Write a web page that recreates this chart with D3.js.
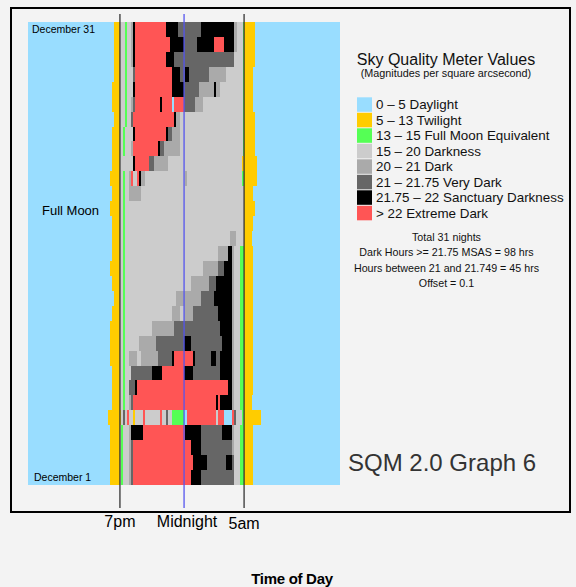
<!DOCTYPE html>
<html><head><meta charset="utf-8">
<script src="https://cdn.jsdelivr.net/npm/d3@7"></script>
<style>
body{margin:0;background:#f3f3f3;}
svg{display:block;font-family:"Liberation Sans",Arial,Helvetica,sans-serif;}
</style>
</head><body><svg id="chart" width="576" height="587"></svg>
<script>
// ---------- DATA ----------
const categoryCodes = ["D","T","F","L","M","V","S","E"];
const categoryLabels = ["0 – 5 Daylight","5 – 13 Twilight","13 – 15 Full Moon Equivalent","15 – 20 Darkness","20 – 21 Dark","21 – 21.75 Very Dark","21.75 – 22 Sanctuary Darkness","> 22 Extreme Dark"];
const nights = ["December 31","December 30","December 29","December 28","December 27","December 26","December 25","December 24","December 23","December 22","December 21","December 20","December 19","December 18","December 17","December 16","December 15","December 14","December 13","December 12","December 11","December 10","December 9","December 8","December 7","December 6","December 5","December 4","December 3","December 2","December 1"];
// each night: category code + start time (minutes after noon); segment lasts until the next start (last one until noon next day)
const nightRuns = [
"D0 T397 L424 F449 L455 M475 S484 E494 S637 V692 S798 M950 L963 F990 T996 D1047",
"D0 T397 L424 F449 L455 M475 S484 E494 S655 V720 S778 E858 S904 M950 L963 F990 T996 D1047",
"D0 T397 L424 F449 L455 M475 S484 E494 S637 V673 L950 F990 T996 D1047",
"D0 T397 L424 F449 L455 V484 E494 S664 V701 S724 V743 M835 L913 F990 T996 D1039",
"D0 T387 L424 F449 L455 S484 E494 S664 V720 M789 S858 M867 L886 F990 T996 D1039",
"D0 T387 L424 F449 L455 M475 V484 E494 S609 E618 D664 E673 V720 M770 L807 F990 T996 D1039",
"D0 T397 L424 F449 L455 V475 E484 S673 M683 L701 F990 T996 D1047",
"D0 T387 L424 F440 L447 S484 E494 S637 V646 M664 L701 F990 T996 D1047",
"D0 T387 L424 F440 L447 M475 E484 S600 V609 M627 L701 F990 T996 D1047",
"D0 T387 L424 S484 E494 V558 M581 L646 T986 D1055",
"D0 T378 L424 F440 L447 M466 E475 L484 E503 S512 M521 L540 M724 L733 F986 T996 D1055",
"D0 T387 L424 F440 L447 M466 L521 T996 D1039",
"D0 T378 L424 F440 L447 T996 D1047",
"D0 T387 L424 F440 L447 T996 D1039",
"D0 T387 L424 F440 L447 M932 L960 T996 D1032",
"D0 T387 L424 F440 L447 M876 S923 M941 L950 F978 T996 D1039",
"D0 T378 L424 F440 L447 M807 V876 S904 M941 L950 F978 T996 D1039",
"D0 T387 L424 F440 L447 M752 V835 S867 M941 L950 F978 T996 D1039",
"D0 T397 L424 F440 L447 M683 V798 S858 M941 L950 F978 T996 D1039",
"D0 T387 L424 F440 L447 M664 L701 M720 V761 S876 M941 L950 F978 T996 D1039",
"D0 T378 L424 F440 L447 M570 V673 S886 M941 L950 F978 T996 D1039",
"D0 T378 L424 F440 L447 M512 V589 S720 V752 S895 M941 L950 F978 T996 D1039",
"D0 T378 L424 F440 L447 M466 L503 M521 V601 S664 E673 S761 V770 S844 V867 S886 M941 L950 F978 T996 D1039",
"D0 T387 L424 F440 L447 V475 S570 E618 S720 V761 S886 M941 L950 F978 T996 D1039",
"D0 T387 L424 F440 L447 V466 S494 E503 S923 M941 L950 F978 T996 D1039",
"D0 T387 L424 F440 L447 M466 V475 E484 S867 E876 S886 M941 L950 F978 T996 D1032",
"D0 T369 L429 V440 L447 E455 L466 T484 L494 E529 L540 E609 L618 V637 L646 F664 D720 E733 L867 E876 D904 E941 V950 L960 F986 T996 D1075",
"D0 T378 L424 F429 L437 M466 S475 E529 S724 V798 S895 M941 L950 F978 T996 D1039",
"D0 T378 L424 F429 L437 M466 V475 E484 S752 V798 M941 L950 F978 T996 D1039",
"D0 T378 L424 F429 L437 M466 V475 E484 S761 V826 S913 V941 L950 F978 T996 D1039",
"D0 T378 L424 F429 L437 M466 V475 E484 S752 V798 L950 F978 T996 D1039"
];
const tickLabels = ["7pm","Midnight","5am"];
const tickMinutes = [422, 718, 995];
const statsLines = ["Total 31 nights","Dark Hours >= 21.75 MSAS = 98 hrs","Hours between 21 and 21.749 = 45 hrs","Offset = 0.1"];
const chartTitle = "SQM 2.0 Graph 6";
const legendTitle = "Sky Quality Meter Values";
const legendSubtitle = "(Magnitudes per square arcsecond)";
const xTitle = "Time of Day";
const moonNote = "Full Moon";

// ---------- STYLE ----------
const palette = ["#99DDFF","#FFCC00","#55FF55","#CCCCCC","#AAAAAA","#666666","#000000","#FF5555"];
const color = d3.scaleOrdinal().domain(categoryCodes).range(palette);

const svg = d3.select("#chart");
const x = d3.scaleLinear().domain([0, 1440]).range([28, 340]);
const y = d3.scaleBand().domain(nights).range([22, 485]);

// heat map cells
const cells = [];
nightRuns.forEach((str, i) => {
  const parts = str.split(" ").map(p => ({code: p[0], start: +p.slice(1)}));
  parts.forEach((p, j) => {
    const end = j < parts.length - 1 ? parts[j+1].start : 1440;
    cells.push({night: nights[i], code: p.code, start: p.start, end});
  });
});
svg.append("g").attr("shape-rendering","crispEdges")
  .selectAll("rect").data(cells).join("rect")
  .attr("x", d => x(d.start))
  .attr("width", d => x(d.end) - x(d.start))
  .attr("y", d => y(d.night))
  .attr("height", y.bandwidth() + 0.3)
  .attr("fill", d => color(d.code));

// frame
svg.append("rect").attr("x", 11).attr("y", 8).attr("width", 559).attr("height", 504)
  .attr("fill","none").attr("stroke","#000").attr("stroke-width", 2);

// time axis with long reference lines
const axis = d3.axisBottom(x).tickValues(tickMinutes)
  .tickFormat((d,i) => tickLabels[i]).tickSizeInner(-494).tickSizeOuter(0).tickPadding(8);
const ag = svg.append("g").attr("transform","translate(0,508)").call(axis);
ag.select(".domain").remove();
ag.selectAll(".tick line").attr("stroke", (d,i) => i === 1 ? "#5555ee" : "#333").attr("stroke-width", 1.3);
ag.selectAll(".tick text").attr("font-size", 16).attr("fill","#000")
  .attr("font-family","Liberation Sans, Arial, sans-serif")
  .attr("dx", (d,i) => i === 1 ? 3 : 0).attr("dy", (d,i) => i === 2 ? "0.82em" : "0.71em");

svg.append("text").attr("x", 292).attr("y", 584).attr("text-anchor","middle")
  .attr("font-size", 15).attr("font-weight","bold").attr("letter-spacing", -0.3).text(xTitle);

// row labels
svg.append("text").attr("x", 32).attr("y", y(nights[0]) + 11).attr("font-size", 10.5).text(nights[0]);
svg.append("text").attr("x", 34).attr("y", y(nights[nights.length-1]) + 11).attr("font-size", 10.5).text(nights[nights.length-1]);
svg.append("text").attr("x", 42).attr("y", 215).attr("font-size", 13).text(moonNote);

// legend
svg.append("text").attr("x", 446).attr("y", 65).attr("text-anchor","middle").attr("font-size", 16).attr("fill","#111").text(legendTitle);
svg.append("text").attr("x", 446).attr("y", 77).attr("text-anchor","middle").attr("font-size", 10.8).attr("fill","#111").text(legendSubtitle);
const lg = svg.append("g").selectAll("g").data(categoryCodes).join("g")
  .attr("transform", (d,i) => `translate(357,${97.3 + i*15.5})`);
lg.append("rect").attr("width", 15).attr("height", 14.5).attr("fill", d => color(d));
lg.append("text").attr("x", 19).attr("y", 12).attr("font-size", 13.4).attr("fill","#111")
  .text((d,i) => categoryLabels[i]);

svg.append("g").selectAll("text").data(statsLines).join("text")
  .attr("x", 446.5).attr("y", (d,i) => 240.5 + i*15.6).attr("text-anchor","middle")
  .attr("font-size", 10.7).attr("fill","#111").text(d => d);

svg.append("text").attr("x", 348).attr("y", 471).attr("font-size", 24).attr("fill","#333").text(chartTitle);
</script>
</body></html>
